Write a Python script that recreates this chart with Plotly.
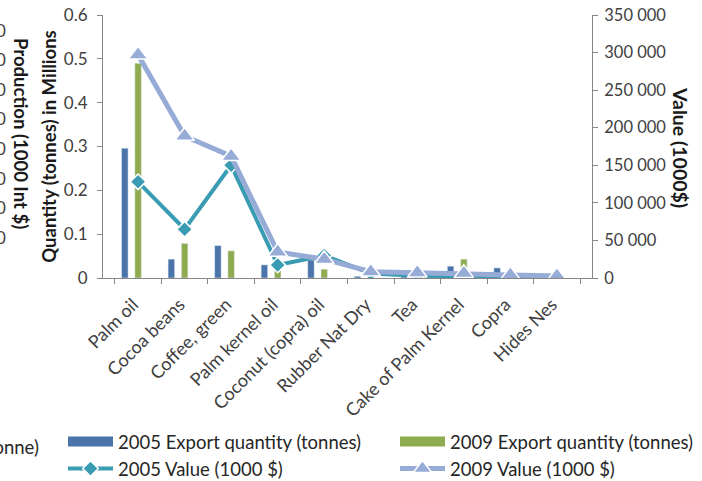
import plotly.graph_objects as go

categories = ["Palm oil", "Cocoa beans", "Coffee, green", "Palm kernel oil",
              "Coconut (copra) oil", "Rubber Nat Dry", "Tea",
              "Cake of Palm Kernel", "Copra", "Hides Nes"]
qty_2005 = [0.296, 0.043, 0.074, 0.030, 0.041, 0.004, 0.003, 0.027, 0.023, 0.0]
qty_2009 = [0.490, 0.079, 0.062, 0.017, 0.020, 0.001, 0.0, 0.043, 0.0, 0.0]
val_2005 = [128000, 65000, 150000, 17300, 30000, 6000, 3000, 1000, 2500, 3000]
val_2009 = [297000, 189000, 162000, 34600, 25000, 8400, 7000, 6200, 4000, 2700]
cut_left_ticks = ["0", "0", "0", "0", "0", "0", "0", "0"]

W, H = 702, 481
L, R, T, B = 103, 110, 15, 203
PW, PH = W - L - R, H - T - B


def px(x):
    return (x - L) / PW


def py(y):
    return (H - B - y) / PH


FONT = "Lato"
BLUE = "#4A74AA"
GREEN = "#8FAB4F"
TEAL = "#3A9CB2"
LAV = "#97ABD7"

fig = go.Figure()

fig.add_trace(go.Bar(x=categories, y=qty_2005, marker_color=BLUE, width=0.14,
                     offset=-0.355, showlegend=False, yaxis="y"))
fig.add_trace(go.Bar(x=categories, y=qty_2009, marker_color=GREEN, width=0.14,
                     offset=-0.07, showlegend=False, yaxis="y"))

fig.add_trace(go.Scatter(x=categories, y=val_2005, yaxis="y2", mode="lines+markers",
                         name="2005 Value (1000 $)", legend="legend", legendrank=2,
                         line=dict(color=TEAL, width=4),
                         marker=dict(symbol="diamond", size=12, color=TEAL,
                                     line=dict(color="white", width=1.5))))
fig.add_trace(go.Scatter(x=categories, y=val_2009, yaxis="y2", mode="lines+markers",
                         name="2009 Value (1000 $)", legend="legend2", legendrank=2,
                         line=dict(color=LAV, width=5),
                         marker=dict(symbol="triangle-up", size=17, color=LAV,
                                     line=dict(color="white", width=1.5))))

# legend swatches for the bar series
fig.add_trace(go.Scatter(x=[None], y=[None], mode="lines", yaxis="y",
                         name="2005 Export quantity (tonnes)", legend="legend", legendrank=1,
                         line=dict(color=BLUE, width=10)))
fig.add_trace(go.Scatter(x=[None], y=[None], mode="lines", yaxis="y",
                         name="2009 Export quantity (tonnes)", legend="legend2", legendrank=1,
                         line=dict(color=GREEN, width=10)))

axis_col = "#868686"
tick_font = dict(family=FONT, size=17, color="#404040")
title_font = dict(family=FONT, size=18.5, color="#1a1a1a")
legend_font = dict(family=FONT, size=18.5, color="#262626")

annotations = [
    dict(x=px(681), y=py(147), xref="paper", yref="paper", text="<b>Value (1000$)</b>",
         textangle=90, showarrow=False, xanchor="center", yanchor="middle",
         font=dict(family=FONT, size=19.5, color="#1a1a1a")),
    dict(x=px(21), y=py(133), xref="paper", yref="paper", text="<b>Production (1000 Int $)</b>",
         textangle=90, showarrow=False, xanchor="center", yanchor="middle", font=title_font),
    dict(x=px(41), y=py(447), xref="paper", yref="paper", text="Production (tonne)",
         xanchor="right", yanchor="middle", showarrow=False, font=legend_font),
]
for i, t in enumerate(cut_left_ticks):
    annotations.append(dict(x=px(8), y=py(30 + i * 29.6), xref="paper", yref="paper", text=t,
                            xanchor="right", yanchor="middle", showarrow=False,
                            font=dict(family=FONT, size=17, color="#404040")))

fig.update_layout(
    width=W, height=H,
    margin=dict(l=L, r=R, t=T, b=B, autoexpand=False),
    paper_bgcolor="white", plot_bgcolor="white",
    barmode="overlay",
    separators=". ",
    font=dict(family=FONT, size=17, color="#262626"),
    xaxis=dict(type="category", tickson="boundaries", ticks="outside", ticklen=5,
               tickcolor=axis_col, showline=True, linecolor=axis_col, linewidth=1,
               showgrid=False, tickangle=-45,
               tickfont=dict(family=FONT, size=18, color="#404040"),
               ticklabelstandoff=8, ticklabelshift=-5),
    yaxis=dict(range=[0, 0.6], dtick=0.1, ticks="outside", ticklen=5, tickcolor=axis_col,
               showline=True, linecolor=axis_col, showgrid=False, zeroline=False,
               tickfont=tick_font, ticklabelstandoff=6,
               title=dict(text="<b>Quantity (tonnes) in Millions</b>", standoff=2,
                          font=title_font)),
    yaxis2=dict(range=[0, 350000], dtick=50000, overlaying="y", side="right",
                tickformat=",d", ticks="outside", ticklen=5, tickcolor=axis_col,
                showline=True, linecolor=axis_col, showgrid=False, zeroline=False,
                tickfont=dict(family=FONT, size=16.5, color="#404040"),
                ticklabelstandoff=3),
    legend=dict(x=px(63), y=py(423), xanchor="left", yanchor="top", orientation="v",
                itemwidth=45, font=legend_font,
                bgcolor="rgba(0,0,0,0)", tracegroupgap=0),
    legend2=dict(x=px(395), y=py(423), xanchor="left", yanchor="top", orientation="v",
                 itemwidth=45, font=legend_font,
                 bgcolor="rgba(0,0,0,0)", tracegroupgap=0),
    annotations=annotations,
)

fig.write_html("out.html", config={"displayModeBar": False},
               post_script="document.body.style.margin='0';")
